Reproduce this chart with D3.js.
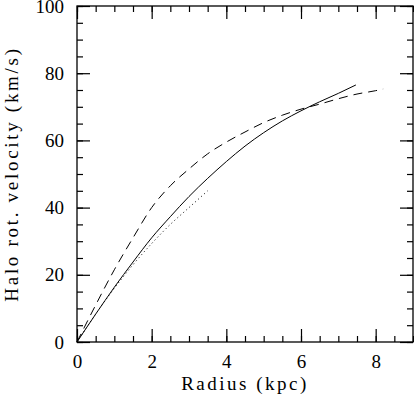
<!DOCTYPE html>
<html>
<head>
  <meta charset="utf-8">
  <script src="https://d3js.org/d3.v7.min.js"></script>
  <style>
    body { margin: 0; background: #fff; }
    text { font-family: "Liberation Serif", "Times New Roman", Times, "DejaVu Serif"; fill: #000; }
  </style>
</head>
<body>
<div id="chart"></div>
<script>
const width = 414;
const height = 397;
const margin = {top: 6, right: 1, bottom: 55, left: 77};

// values (radius in kpc, velocity in km/s)
const solidR = [0, 0.5, 1, 1.5, 2, 2.5, 3, 3.5, 4, 4.5, 5, 5.5, 6, 6.5, 7, 7.47];
const solidV = [0, 8.3, 16.3, 23.8, 31, 37.3, 43.3, 48.7, 53.7, 58.3, 62.3, 65.8, 68.8, 71.5, 74, 76.5];

const dashR = [0, 0.5, 1, 1.5, 2, 2.5, 3, 3.5, 4, 4.5, 5, 5.5, 6, 6.5, 7, 7.5, 8, 8.2];
const dashV = [0, 11, 21.5, 31, 40, 46.5, 51.5, 56, 59.5, 62.5, 65.3, 67.5, 69.3, 70.8, 72.4, 73.8, 74.8, 75.3];

const dotR = [0, 0.5, 1, 1.5, 2, 2.5, 3, 3.5];
const dotV = [0, 8.3, 16, 23, 29.3, 35, 40, 45];

const xTicks = [0, 2, 4, 6, 8];
const yTicks = [0, 20, 40, 60, 80, 100];

const x = d3.scaleLinear().domain([0, 9]).range([margin.left, width - margin.right]);
const y = d3.scaleLinear().domain([0, 100]).range([height - margin.bottom, margin.top]);

const svg = d3.select("#chart").append("svg")
    .attr("width", width)
    .attr("height", height);

const bottom = height - margin.bottom;
const right = width - margin.right;

// ticks on all four sides, pointing inward
function addAxis(axis, transform) {
  const g = svg.append("g").attr("transform", transform).call(axis);
  g.attr("font-family", null);
  g.select(".domain").remove();
  g.selectAll("line").attr("stroke", "#000").attr("stroke-width", 1.2);
  g.selectAll("text").attr("font-size", 19);
  return g;
}

const xMinor = d3.range(0, 9.01, 0.5);
const yMinor = d3.range(0, 100.1, 5);

addAxis(d3.axisBottom(x).tickValues(xMinor).tickSize(-6).tickFormat(""), `translate(0,${bottom})`);
addAxis(d3.axisTop(x).tickValues(xMinor).tickSize(-6).tickFormat(""), `translate(0,${margin.top})`);
addAxis(d3.axisLeft(y).tickValues(yMinor).tickSize(-6).tickFormat(""), `translate(${margin.left},0)`);
addAxis(d3.axisRight(y).tickValues(yMinor).tickSize(-6).tickFormat(""), `translate(${right},0)`);

addAxis(d3.axisBottom(x).tickValues(xTicks).tickSize(-13).tickPadding(13).tickFormat(d3.format("d")), `translate(0,${bottom})`);
addAxis(d3.axisTop(x).tickValues(xTicks).tickSize(-13).tickFormat(""), `translate(0,${margin.top})`);
addAxis(d3.axisLeft(y).tickValues(yTicks).tickSize(-13).tickPadding(13).tickFormat(d3.format("d")), `translate(${margin.left},0)`);
addAxis(d3.axisRight(y).tickValues(yTicks).tickSize(-13).tickFormat(""), `translate(${right},0)`);

// frame
svg.append("rect")
    .attr("x", margin.left).attr("y", margin.top)
    .attr("width", right - margin.left).attr("height", bottom - margin.top)
    .attr("fill", "none").attr("stroke", "#000").attr("stroke-width", 1.3);

const line = d3.line().x(d => x(d[0])).y(d => y(d[1])).curve(d3.curveMonotoneX);

function drawSeries(rs, vs, dash) {
  svg.append("path")
    .datum(rs.map((r, i) => [r, vs[i]]))
    .attr("fill", "none")
    .attr("stroke", "#000")
    .attr("stroke-width", 1)
    .attr("stroke-dasharray", dash)
    .attr("d", line);
}

drawSeries(solidR, solidV, null);
drawSeries(dashR, dashV, "9,6");
drawSeries(dotR, dotV, "1,3");

svg.append("text")
    .attr("x", (margin.left + right) / 2)
    .attr("y", 390)
    .attr("text-anchor", "middle")
    .attr("font-size", 19)
    .attr("letter-spacing", 2.5)
    .text("Radius (kpc)");

svg.append("text")
    .attr("transform", `translate(18,${(margin.top + bottom) / 2}) rotate(-90)`)
    .attr("text-anchor", "middle")
    .attr("font-size", 19)
    .attr("letter-spacing", 2.7)
    .text("Halo rot. velocity (km/s)");
</script>
</body>
</html>
